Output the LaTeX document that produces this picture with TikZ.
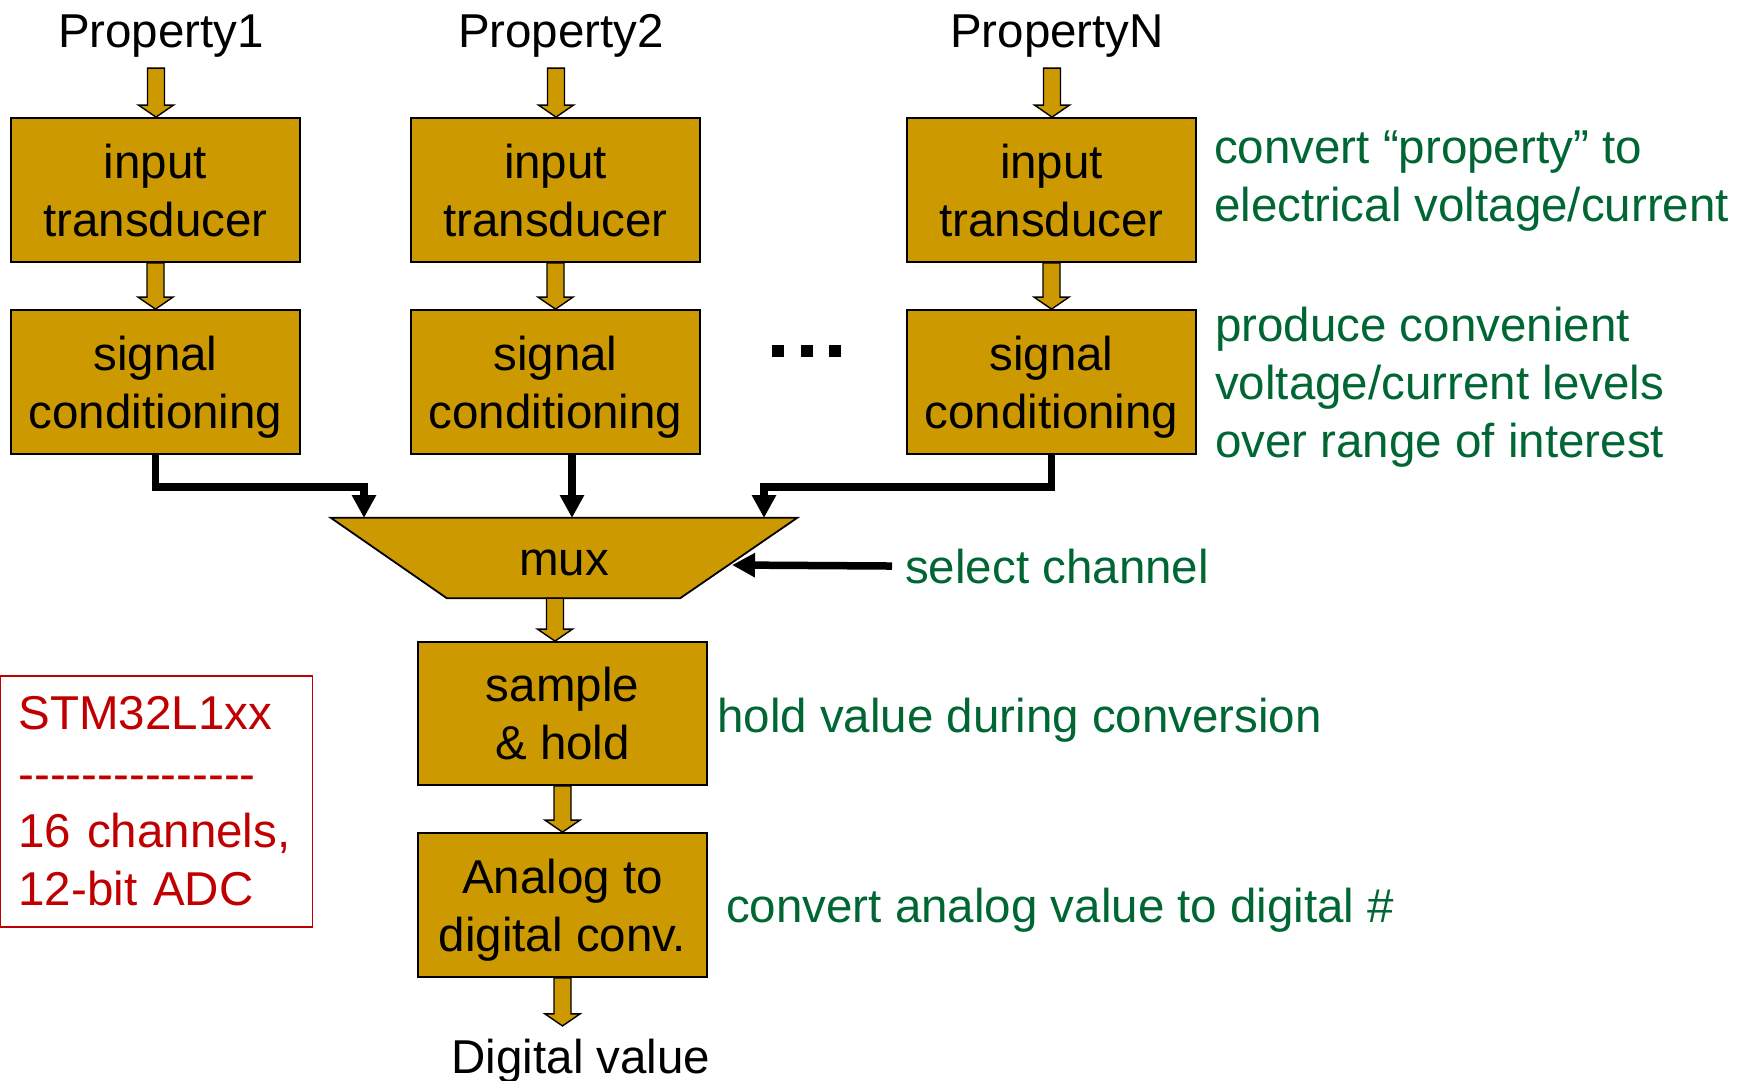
\documentclass[tikz,border=0pt]{standalone}
\usepackage{fontspec}
\setmainfont{Liberation Sans}
\usetikzlibrary{calc,arrows.meta,backgrounds}
\definecolor{gold}{RGB}{204,153,0}
\definecolor{notegreen}{RGB}{0,102,51}
\definecolor{notered}{RGB}{192,0,0}
\newcommand\bigfont{\fontsize{47.5pt}{58pt}\selectfont}
\newcommand\topst{\rule{0pt}{44pt}}
\newcommand\botst{\rule[-10pt]{0pt}{10pt}}
\newcommand\hy{-{}}
% block arrow from #1 down to #2 (x taken from #1)
\newcommand\barrow[2]{%
  \draw[barrowstyle] let \p1=(#1), \p2=(#2) in
    (\x1-8.5pt,\y1) -- (\x1+8.5pt,\y1) -- (\x1+8.5pt,\y2+12pt) -- (\x1+17.5pt,\y2+12pt)
    -- (\x1,\y2) -- (\x1-17.5pt,\y2+12pt) -- (\x1-8.5pt,\y2+12pt) -- cycle;}
\begin{document}
\begin{tikzpicture}[x=1pt,y=-1pt,
  box/.style={draw=black, line width=1.8pt, fill=gold, minimum width=289pt,
    minimum height=144pt, inner sep=0pt, align=center, font=\bigfont},
  barrowstyle/.style={draw=black, line width=1.4pt, fill=gold, line join=miter},
  conn/.style={draw=black, line width=7.5pt, line join=miter,
    -{Triangle[length=23pt,width=23pt]}},
  note/.style={text=notegreen, font=\bigfont, align=left, inner sep=0pt, anchor=base west},
  lbl/.style={font=\bigfont, inner sep=0pt, anchor=base},
  dot/.style={fill=black, draw=none}]
\useasboundingbox (0,0) rectangle (1752,1080);

% property labels
\node[lbl] (P1) at (161,47) {Property1};
\node[lbl] (P2) at (561,47) {Property2};
\node[lbl] (PN) at (1057,47) {PropertyN};

% input transducers
\node[box] (it1) at (155.5,190) {\topst input\\transducer\botst};
\node[box] (it2) at (555.5,190) {\topst input\\transducer\botst};
\node[box] (it3) at (1051.5,190) {\topst input\\transducer\botst};

% signal conditioning
\node[box] (sc1) at (155.5,382) {\topst signal\\conditioning\botst};
\node[box] (sc2) at (555.5,382) {\topst signal\\conditioning\botst};
\node[box] (sc3) at (1051.5,382) {\topst signal\\conditioning\botst};

% dots
\path[dot] (772,345) rectangle ++(12,12);
\path[dot] (801,345) rectangle ++(12,12);
\path[dot] (829,345) rectangle ++(12,12);

% mux
\node[minimum width=466pt, minimum height=80pt, inner sep=0pt, font=\bigfont,
  text height=34pt, text depth=0pt] (mux) at (564,558) {mux};
\begin{scope}[on background layer]
\draw[draw=black, line width=1.8pt, fill=gold, line join=miter]
  (mux.north west) -- (mux.north east) -- ($(mux.south east)+(-117,0)$)
  -- ($(mux.south west)+(116,0)$) -- cycle;
\end{scope}

% sample & hold, ADC
\node[box, minimum height=143pt] (sh) at (562.5,713.5) {\topst sample\\\& hold\botst};
\node[box] (adc) at (562.5,905) {\topst Analog to\\digital conv.\botst};
\node[lbl] (out) at (581,1073) {Digital value};

% red note box
\node[draw=notered, line width=1.5pt, text=notered, font=\bigfont, align=left,
  text width=276pt, inner xsep=18pt, inner ysep=0pt, minimum height=251pt]
  (chip) at (156.5,801.5)
  {STM32L1xx\\[3pt]\hy\hy\hy\hy\hy\hy\hy\hy\hy\hy\hy\hy\hy\hy\hy\\[-1pt]16 channels,\\12-bit ADC};

% green notes (anchor = baseline of last line)
\node[note] (n1) at (1214,221) {convert “property” to\\electrical voltage/current};
\node[note] (n2) at (1215,457) {produce convenient\\voltage/current levels\\over range of interest};
\node[note] (sel) at (905,583) {select channel};
\node[note] (n4) at (717,732) {hold value during conversion};
\node[note] (n5) at (726,922) {convert analog value to digital \#};

% coordinates
\coordinate (a1) at ($(it1.north)+(0.5,-49)$);
\coordinate (a2) at ($(it2.north)+(0.5,-49)$);
\coordinate (a3) at ($(it3.north)+(0.5,-49)$);
\coordinate (m1) at (364,518);
\coordinate (m2) at (572,518);
\coordinate (m3) at (764,518);
\coordinate (selend) at (732,565);
\coordinate (outtip) at ($(adc.south)+(0,48)$);

% block arrows
\barrow{a1}{it1.north}
\barrow{a2}{it2.north}
\barrow{a3}{it3.north}
\barrow{it1.south}{sc1.north}
\barrow{it2.south}{sc2.north}
\barrow{it3.south}{sc3.north}
\barrow{$(mux.south)+(-9,0)$}{sh.north}
\barrow{sh.south}{adc.north}
\barrow{adc.south}{outtip}

% black connectors
\draw[conn] (sc1.south) -- ++(0,32) -| (m1);
\draw[conn] ($(sc2.south)+(16.5,0)$) -- (m2);
\draw[conn] (sc3.south) -- ++(0,32) -| (m3);
\draw[conn] ([xshift=-13pt]sel.west) -- (selend);
\end{tikzpicture}
\end{document}
